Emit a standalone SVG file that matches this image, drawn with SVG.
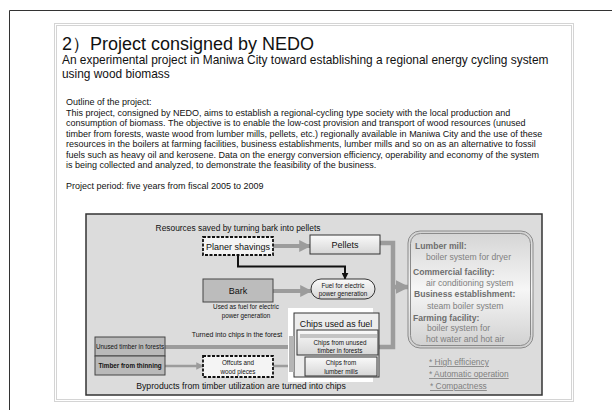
<svg xmlns="http://www.w3.org/2000/svg" width="612" height="410" viewBox="0 0 612 410">
<defs>
<style>
text{font-family:"Liberation Sans",Arial,sans-serif;fill:#111}
.body{font-size:9px}
.lbl{font-size:9px;text-anchor:middle}
.sm{font-size:6.3px;text-anchor:middle}
.rt{font-size:8.6px;fill:#808080}
.rb{font-size:8.6px;font-weight:bold;fill:#6e6e6e}
.ul{font-size:8.4px;fill:#808080;text-decoration:underline}
.g{stroke:#9c9c9c;fill:none}
</style>
<linearGradient id="lg" x1="0" y1="0" x2="0" y2="1"><stop offset="0" stop-color="#fafafa"/><stop offset="1" stop-color="#d6d6d6"/></linearGradient>
<linearGradient id="rg" x1="0" y1="0" x2="0" y2="1"><stop offset="0" stop-color="#d4d4d4"/><stop offset="0.5" stop-color="#f6f6f6"/><stop offset="1" stop-color="#d0d0d0"/></linearGradient>
<marker id="ag" viewBox="0 0 10 10" refX="9" refY="5" markerWidth="3" markerHeight="3" orient="auto" markerUnits="strokeWidth"><path d="M0,0L10,5L0,10z" fill="#9c9c9c"/></marker>
<marker id="ab" viewBox="0 0 10 10" refX="9" refY="5" markerWidth="3.5" markerHeight="3.5" orient="auto" markerUnits="strokeWidth"><path d="M0,0L10,5L0,10z" fill="#111"/></marker>
</defs>
<rect width="612" height="410" fill="#fff"/>
<path d="M9.5,410V10.5H612" fill="none" stroke="#333" stroke-width="1"/>
<rect x="55.5" y="24.5" width="517" height="376" fill="#fff" stroke="#d4d4d4" stroke-width="3"/>
<rect x="55.5" y="24.5" width="517" height="376" fill="none" stroke="#fff" stroke-width="1"/>
<g id="header">
<text x="62" y="49.5" font-size="18">2）Project consigned by NEDO</text>
<text x="62" y="64" font-size="11.9">An experimental project in Maniwa City toward establishing a regional energy cycling system</text>
<text x="62" y="77.5" font-size="11.9">using wood biomass</text>
<text class="body" x="66" y="105">Outline of the project:</text>
<text class="body" x="66" y="115.5">This project, consigned by NEDO, aims to establish a regional-cycling type society with the local production and</text>
<text class="body" x="66" y="126">consumption of biomass. The objective is to enable the low-cost provision and transport of wood resources (unused</text>
<text class="body" x="66" y="136.5">timber from forests, waste wood from lumber mills, pellets, etc.) regionally available in Maniwa City and the use of these</text>
<text class="body" x="66" y="147">resources in the boilers at farming facilities, business establishments, lumber mills and so on as an alternative to fossil</text>
<text class="body" x="66" y="157.5">fuels such as heavy oil and kerosene. Data on the energy conversion efficiency, operability and economy of the system</text>
<text class="body" x="66" y="168">is being collected and analyzed, to demonstrate the feasibility of the business.</text>
<text class="body" x="66" y="189">Project period: five years from fiscal 2005 to 2009</text>
</g>
<g id="diagram-frame">
<rect x="86" y="214" width="456" height="181" fill="#dcdcdc" stroke="#333" stroke-width="1.5"/>
<text x="238" y="231" font-size="8.4" text-anchor="middle">Resources saved by turning bark into pellets</text>
<text x="241" y="389" font-size="8.7" text-anchor="middle">Byproducts from timber utilization are turned into chips</text>
<text x="237" y="337" font-size="6.9" text-anchor="middle">Turned into chips in the forest</text>
<text class="sm" x="246" y="309" font-size="5.8">Used as fuel for electric</text>
<text class="sm" x="246" y="318" font-size="5.8">power generation</text>
</g>
<g id="connectors">
<line class="g" x1="273" y1="246" x2="310" y2="246" stroke-width="4" marker-end="url(#ag)"/>
<line class="g" x1="273" y1="291" x2="311" y2="291" stroke-width="4" marker-end="url(#ag)"/>
<line class="g" x1="165" y1="347" x2="311" y2="347" stroke-width="4" marker-end="url(#ag)"/>
<line class="g" x1="165" y1="366" x2="203" y2="366" stroke-width="2.5" marker-end="url(#ag)"/>
<line class="g" x1="273" y1="366" x2="305" y2="366" stroke-width="2.5" marker-end="url(#ag)"/>
<polyline points="238,255 238,266.5 345,266.5 345,279" fill="none" stroke="#111" stroke-width="2" marker-end="url(#ab)"/>
<polyline class="g" points="380,243 393,243 393,347 379,347" stroke-width="4.5" stroke="#8c8c8c"/>
<line class="g" x1="393" y1="287" x2="408" y2="287" stroke-width="4.5" stroke="#8c8c8c" marker-end="url(#ag)"/>
</g>
<g id="planer-shavings">
<rect x="203" y="237" width="70" height="18" fill="#f4f4f4" stroke="#111" stroke-width="1.8" stroke-dasharray="3,1.5"/>
<text class="lbl" x="238" y="249.5">Planer shavings</text>
</g>
<g id="pellets">
<rect x="310" y="235" width="70" height="19" fill="url(#lg)" stroke="#333" stroke-width="1"/>
<text class="lbl" x="345" y="248">Pellets</text>
</g>
<g id="bark">
<rect x="203" y="279" width="70" height="23" fill="#bcbcbc" stroke="#444" stroke-width="1"/>
<text class="lbl" x="238" y="294">Bark</text>
</g>
<g id="fuel-power">
<rect x="311" y="279" width="64" height="20" rx="10" fill="url(#lg)" stroke="#333" stroke-width="1"/>
<text class="sm" x="343" y="287.5">Fuel for electric</text>
<text class="sm" x="343" y="295.5">power generation</text>
</g>
<g id="unused-timber">
<rect x="95" y="337" width="70" height="19" fill="#b9b9b9" stroke="#444" stroke-width="1"/>
<text class="sm" x="130" y="349" font-size="5.7">Unused timber in forests</text>
</g>
<g id="timber-thinning">
<rect x="95" y="356" width="70" height="19" fill="#b9b9b9" stroke="#444" stroke-width="1"/>
<text class="sm" x="130" y="368" font-size="5.9" font-weight="bold">Timber from thinning</text>
</g>
<g id="offcuts">
<rect x="203" y="356" width="70" height="21" fill="#f4f4f4" stroke="#111" stroke-width="1.8" stroke-dasharray="3,1.5"/>
<text class="sm" x="238" y="364.5" font-size="7">Offcuts and</text>
<text class="sm" x="238" y="373.5" font-size="7">wood pieces</text>
</g>
<g id="chips-used-as-fuel">
<rect x="288" y="308" width="85" height="74" fill="#fff"/>
<rect x="294" y="313" width="85" height="64" fill="#ececec" stroke="#333" stroke-width="1"/>
<rect x="289" y="336" width="5" height="36" fill="#b5b5b5"/>
<text x="336" y="327" font-size="8.8" text-anchor="middle">Chips used as fuel</text>
</g>
<g id="chips-unused">
<rect x="297" y="330" width="81" height="25" fill="url(#lg)" stroke="#333" stroke-width="1"/>
<rect x="300" y="334" width="77" height="4" fill="#c4c4c4"/>
<text class="sm" x="340" y="345">Chips from unused</text>
<text class="sm" x="340" y="352.5">timber in forests</text>
</g>
<g id="chips-lumber">
<rect x="305" y="357" width="72" height="19" fill="url(#lg)" stroke="#333" stroke-width="1"/>
<text class="sm" x="341" y="365" font-size="7">Chips from</text>
<text class="sm" x="341" y="373.5" font-size="7">lumber mills</text>
</g>
<g id="users">
<rect x="408" y="231" width="125" height="117" rx="12" fill="url(#rg)" stroke="#8a8a8a" stroke-width="1"/>
<rect x="410.5" y="233.5" width="120" height="112" rx="10" fill="none" stroke="#8a8a8a" stroke-width="1"/>
<text class="rb" x="415" y="249">Lumber mill:</text>
<text class="rt" x="426" y="260">boiler system for dryer</text>
<text class="rb" x="413" y="275">Commercial facility:</text>
<text class="rt" x="426" y="285.5">air conditioning system</text>
<text class="rb" x="414" y="296.5">Business establishment:</text>
<text class="rt" x="427" y="309">steam boiler system</text>
<text class="rb" x="413" y="321">Farming facility:</text>
<text class="rt" x="427" y="331">boiler system for</text>
<text class="rt" x="426" y="342">hot water and hot air</text>
</g>
<g id="features">
<text class="ul" x="429" y="365">* High efficiency</text>
<text class="ul" x="429" y="377">* Automatic operation</text>
<text class="ul" x="430" y="389">* Compactness</text>
</g>
</svg>
